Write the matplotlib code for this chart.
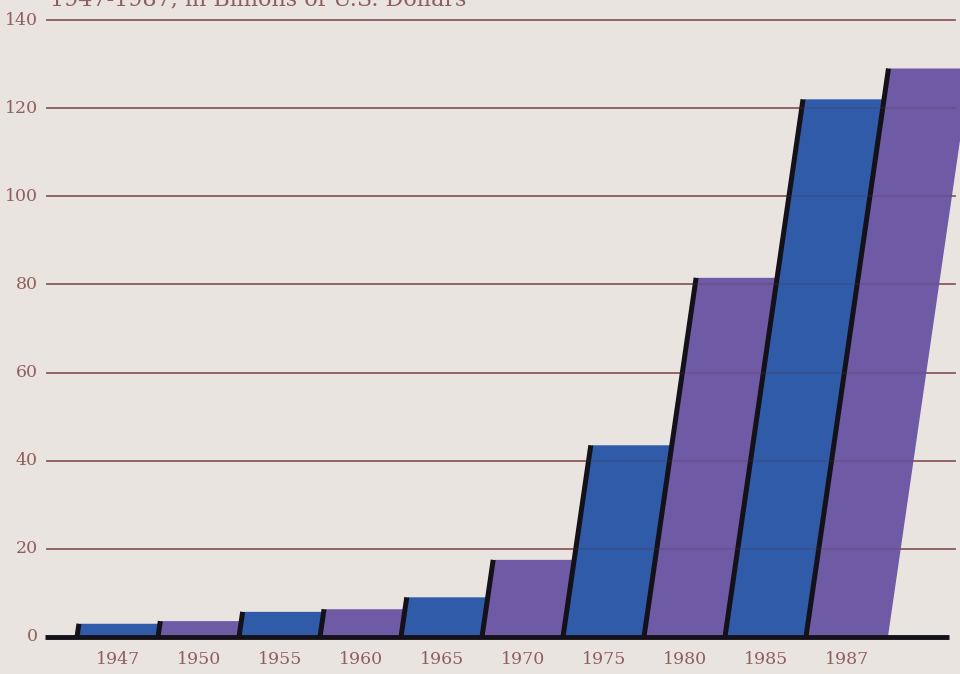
import matplotlib.pyplot as plt
from matplotlib.patches import Polygon

# Values (billions of U.S. dollars)
years = ["1947", "1950", "1955", "1960", "1965", "1970", "1975", "1980", "1985", "1987"]
values = [3.0, 3.6, 5.7, 6.3, 9.0, 17.5, 43.5, 81.5, 122.0, 129.0]
y_ticks = [0, 20, 40, 60, 80, 100, 120, 140]
title = "1947-1987, in Billions of U.S. Dollars"

bg = "#e9e4e0"
blue = "#2f5ba9"
purple = "#6f5aa6"
text_col = "#8f5f5b"
grid_col = "#9c6a68"
colors = [blue if i % 2 == 0 else purple for i in range(len(values))]

slant = 0.0079  # x offset of the bar top per unit of value

fig = plt.figure(figsize=(9.6, 6.74), dpi=100, facecolor=bg)
ax = fig.add_axes([0, 0, 1, 1], facecolor=bg)
ax.set_xlim(-0.963, 10.89)
ax.set_ylim(-8.4, 144.54)
ax.axis("off")

# slanted bars, each overlapping the previous one
for i, (v, c) in enumerate(zip(values, colors)):
    d = slant * v
    pts = [(i, 0), (i + 1, 0), (i + 1 + d, v), (i + d, v)]
    ax.add_patch(Polygon(pts, closed=True, facecolor=c, edgecolor="none", zorder=2 + i))
    ax.plot([i - 0.012, i + d - 0.012], [0, v], color="#141218", lw=3.6,
            solid_capstyle="butt", zorder=2 + i)

# gridlines behind the bars, and a faint trace over them
for t in y_ticks[1:]:
    ax.plot([-0.38, 10.83], [t, t], color=grid_col, lw=1.3, zorder=1)
    ax.plot([-0.38, 10.83], [t, t], color="#5a3040", lw=1.2, alpha=0.25, zorder=30)
    ax.text(-0.495, t, str(t), ha="right", va="center", fontsize=12.5,
            family="DejaVu Serif", color=text_col)

# baseline
ax.plot([-0.41, 10.76], [0, 0], color="#141218", lw=3.5, solid_capstyle="butt", zorder=40)
ax.text(-0.495, 0, "0", ha="right", va="center", fontsize=12.5,
        family="DejaVu Serif", color=text_col)

for i, y in enumerate(years):
    ax.text(i + 0.5, -5.2, y, ha="center", va="center", fontsize=12.5,
            family="DejaVu Serif", color=text_col)

fig.text(50 / 960, 1 - 5 / 674, title, ha="left", va="baseline", fontsize=16,
         family="DejaVu Serif", color=text_col)

fig.savefig("out.png", dpi=100, facecolor=bg)
